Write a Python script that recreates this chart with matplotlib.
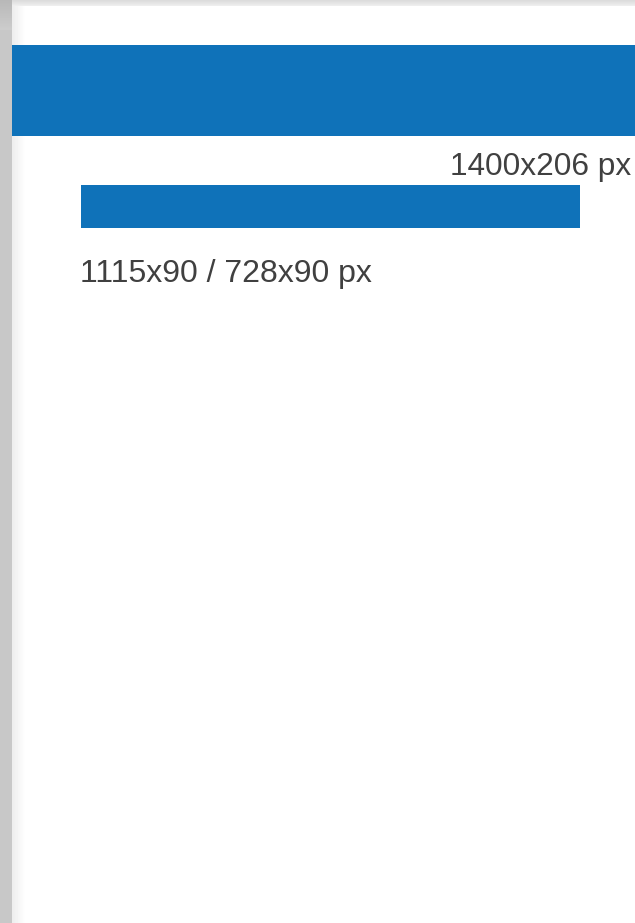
import matplotlib
matplotlib.use('Agg')
import matplotlib.pyplot as plt
import numpy as np

# banner mockups: label and drawn extent (in page pixels)
labels = ['1400x206 px', '1115x90 / 728x90 px']
bar_left = [12, 81]
bar_width = [623, 499]
bar_top = [45, 185]
bar_height = [91, 43]

plt.rcParams['font.family'] = ['Liberation Sans', 'DejaVu Sans']

fig = plt.figure(figsize=(6.35, 9.23), dpi=100)
ax = fig.add_axes([0, 0, 1, 1])
ax.set_xlim(0, 635)
ax.set_ylim(923, 0)
ax.axis('off')

# page frame: gray left edge, top edge, soft inner shadow
ax.add_patch(plt.Rectangle((0, 0), 12, 923, color='#c8c8c8', lw=0))
top = np.linspace(0.86, 0.93, 6)[:, None] * np.ones((6, 10))
ax.imshow(top, cmap='gray', vmin=0, vmax=1, extent=(12, 635, 6, 0), aspect='auto', zorder=1)
shade = np.linspace(0.93, 1.0, 14)[None, :] * np.ones((10, 14))
ax.imshow(shade, cmap='gray', vmin=0, vmax=1, extent=(12, 26, 923, 6), aspect='auto', zorder=1)
ax.imshow(np.linspace(0.72, 0.8, 30)[:, None] * np.ones((30, 2)), cmap='gray', vmin=0, vmax=1,
          extent=(0, 12, 30, 0), aspect='auto', zorder=1)

blue = '#0f72b9'
for l, w, t, h in zip(bar_left, bar_width, bar_top, bar_height):
    ax.barh(t + h / 2, w, height=h, left=l, color=blue, zorder=2)

ax.text(631, 175, labels[0], fontsize=22.8, color='#404040', ha='right', va='baseline')
ax.text(80, 282, labels[1], fontsize=23, color='#404040', ha='left', va='baseline')

ax.set_xlim(0, 635)
ax.set_ylim(923, 0)
fig.savefig('out.png', dpi=100)
